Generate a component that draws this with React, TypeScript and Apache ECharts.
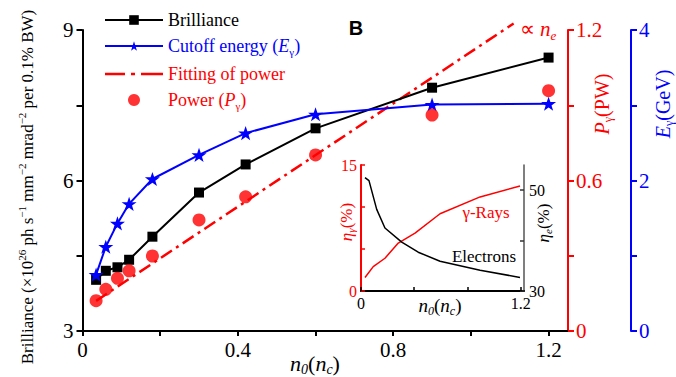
import React, { useEffect, useRef } from "react";
import * as echarts from "echarts";

// ---------- data ----------
const densities = [0.035, 0.06, 0.09, 0.12, 0.18, 0.3, 0.42, 0.6, 0.9, 1.2];
const brilliance = [4.02, 4.2, 4.27, 4.42, 4.88, 5.76, 6.32, 7.04, 7.85, 8.45];
const cutoffEnergy = [0.75, 1.12, 1.43, 1.69, 2.02, 2.34, 2.63, 2.88, 3.01, 3.02];
const power = [0.121, 0.166, 0.21, 0.24, 0.299, 0.443, 0.535, 0.702, 0.861, 0.958];
const fitDensity = [0.035, 1.11];
const fitPower = [0.12, 1.226];

const insetGammaX = [0.03, 0.092, 0.18, 0.28, 0.406, 0.594, 0.895, 1.195];
const insetGamma = [1.6, 2.9, 3.9, 5.7, 6.9, 9.2, 11.2, 12.5];
const insetElecX = [0.03, 0.06, 0.118, 0.18, 0.306, 0.43, 0.594, 0.895, 1.195];
const insetElec = [52.5, 51.9, 46.2, 42.5, 39.7, 37.7, 35.9, 34.1, 32.7];

const xTickLabels = [0, 0.4, 0.8, 1.2];
const leftTickLabels = [3, 6, 9];
const powerTickLabels = [0, 0.6, 1.2];
const energyTickLabels = [0, 2, 4];
const insetXLabels = [0, 1.2];
const insetLeftLabels = [0, 15];
const insetRightLabels = [30, 50];

const SERIF = '"Liberation Serif", "Times New Roman", serif';
const RED = "#ff0000";
const BLUE = "#0000ff";

const zip = (a: number[], b: number[]) => a.map((v, i) => [v, b[i]]);
const near = (list: number[], v: number) => list.some((a) => Math.abs(a - v) < 1e-6);
const only = (list: number[]) => (v: number) => (near(list, v) ? String(+v.toFixed(2)) : "");

const STAR =
  "path://M50,0 L61.8,35.1 L98.1,35.1 L68.8,56.7 L79.4,91 L50,70 L20.6,91 L31.2,56.7 L1.9,35.1 L38.2,35.1 Z";
const DASH_DOT_ICON =
  "path://M0,0 L20,0 L20,2.6 L0,2.6 Z M26,0 L30,0 L30,2.6 L26,2.6 Z M36,0 L58,0 L58,2.6 L36,2.6 Z";

const richBase = (size: number, lh?: number) => {
  const L = lh || size + 4;
  const small = Math.round(size * 0.62);
  return {
    i: { fontStyle: "italic", fontSize: size, fontFamily: SERIF, lineHeight: L },
    r: { fontSize: size, fontFamily: SERIF, lineHeight: L },
    s: { fontSize: small, fontFamily: SERIF, verticalAlign: "bottom", lineHeight: small },
    si: { fontSize: small, fontStyle: "italic", fontFamily: SERIF, verticalAlign: "bottom", lineHeight: small },
    sup: { fontSize: Math.round(size * 0.65), fontFamily: SERIF, verticalAlign: "top", lineHeight: Math.round(size * 0.65) },
  };
};

function txt(x: number, y: number, text: string, size: number, fill: string, extra: any = {}) {
  return {
    type: "text",
    x,
    y,
    rotation: extra.rotation || 0,
    z: 100,
    style: {
      text,
      fill,
      fontSize: size,
      fontFamily: extra.fontFamily || SERIF,
      fontWeight: extra.fontWeight || "normal",
      fontStyle: extra.fontStyle || "normal",
      align: "center",
      verticalAlign: "middle",
      textAlign: "center",
      textVerticalAlign: "middle",
      rich: richBase(size),
    },
  };
}

export default function App() {
  const ref = useRef<HTMLDivElement>(null);

  useEffect(() => {
    if (!ref.current) return;
    const chart = echarts.init(ref.current, undefined, { renderer: "svg" });

    const axisLine = (color: string) => ({ show: true, lineStyle: { color, width: 2 } });

    const option: any = {
      animation: false,
      backgroundColor: "#fff",
      grid: [
        { left: 82.5, top: 30, width: 485.5, height: 301, containLabel: false },
        { left: 361, top: 165, width: 163, height: 126, containLabel: false },
      ],
      legend: {
        orient: "vertical",
        left: 99,
        top: 6,
        itemWidth: 58,
        itemHeight: 12,
        itemGap: 8,
        data: [
          { name: "Brilliance", textStyle: { color: "#000" } },
          { name: "Cutoff", textStyle: { color: BLUE } },
          { name: "Fit", icon: DASH_DOT_ICON, textStyle: { color: RED } },
          { name: "Power", textStyle: { color: RED } },
        ],
        formatter: (name: string) => {
          if (name === "Cutoff") return "{r|Cutoff energy (}{i|E}{s|γ}{r|)}";
          if (name === "Fit") return "{r|Fitting of power}";
          if (name === "Power") return "{r|Power (}{i|P}{s|γ}{r|)}";
          return "{r|Brilliance}";
        },
        textStyle: { fontFamily: SERIF, fontSize: 18, rich: richBase(18, 22) },
      },
      xAxis: [
        {
          gridIndex: 0,
          type: "value",
          min: 0,
          max: 1.25,
          interval: 0.2,
          axisLine: axisLine("#000"),
          axisTick: { show: true, length: 5, lineStyle: { width: 2, color: "#000" }, customValues: [0, 0.2, 0.4, 0.6, 0.8, 1.0, 1.2] },
          axisLabel: {
            formatter: only(xTickLabels),
            customValues: xTickLabels,
            color: "#000",
            fontSize: 21,
            fontFamily: SERIF,
            margin: 8,
          },
          splitLine: { show: false },
        },
        {
          gridIndex: 1,
          type: "value",
          min: 0,
          max: 1.225,
          interval: 0.4,
          axisLine: axisLine("#000"),
          axisTick: { show: true, inside: true, length: 4, lineStyle: { width: 1.5, color: "#000" }, customValues: [0, 0.4, 0.8, 1.2] },
          axisLabel: {
            formatter: only(insetXLabels),
            customValues: insetXLabels,
            color: "#000",
            fontSize: 16,
            fontFamily: SERIF,
            margin: 4,
          },
          splitLine: { show: false },
        },
      ],
      yAxis: [
        {
          gridIndex: 0,
          type: "value",
          position: "left",
          min: 3,
          max: 9,
          interval: 1.5,
          axisLine: axisLine("#000"),
          axisTick: { show: true, length: 6, lineStyle: { width: 2, color: "#000" } },
          axisLabel: { formatter: only(leftTickLabels), color: "#000", fontSize: 21, fontFamily: SERIF, margin: 9 },
          splitLine: { show: false },
        },
        {
          gridIndex: 0,
          type: "value",
          position: "right",
          min: 0,
          max: 1.2,
          interval: 0.3,
          axisLine: axisLine(RED),
          axisTick: { show: true, length: 6, lineStyle: { width: 2, color: RED } },
          axisLabel: { formatter: only(powerTickLabels), color: RED, fontSize: 21, fontFamily: SERIF, margin: 8 },
          splitLine: { show: false },
        },
        {
          gridIndex: 0,
          type: "value",
          position: "right",
          offset: 63,
          min: 0,
          max: 4,
          interval: 1,
          axisLine: axisLine(BLUE),
          axisTick: { show: true, length: 6, lineStyle: { width: 2, color: BLUE } },
          axisLabel: { formatter: only(energyTickLabels), color: BLUE, fontSize: 21, fontFamily: SERIF, margin: 8 },
          splitLine: { show: false },
        },
        {
          gridIndex: 1,
          type: "value",
          position: "left",
          min: 0,
          max: 15,
          interval: 5,
          axisLine: axisLine(RED),
          axisTick: { show: true, inside: true, length: 4, lineStyle: { width: 1.5, color: RED } },
          axisLabel: { formatter: only(insetLeftLabels), color: RED, fontSize: 16, fontFamily: SERIF, margin: 4 },
          splitLine: { show: false },
        },
        {
          gridIndex: 1,
          type: "value",
          position: "right",
          min: 30,
          max: 55,
          interval: 10,
          axisLine: { show: true, lineStyle: { color: "#555", width: 1.5 } },
          axisTick: { show: true, inside: true, length: 4, lineStyle: { width: 1.5, color: "#333" }, customValues: [30, 40, 50] },
          axisLabel: { formatter: only(insetRightLabels), customValues: insetRightLabels, color: "#000", fontSize: 16, fontFamily: SERIF, margin: 5 },
          splitLine: { show: false },
        },
      ],
      series: [
        {
          name: "Fit",
          type: "line",
          xAxisIndex: 0,
          yAxisIndex: 1,
          data: zip(fitDensity, fitPower),
          showSymbol: false,
          symbol: "none",
          clip: false,
          lineStyle: { color: RED, width: 2.5, type: [13, 5, 3, 5] },
          itemStyle: { color: RED },
          z: 2,
        },
        {
          name: "Brilliance",
          type: "line",
          xAxisIndex: 0,
          yAxisIndex: 0,
          data: zip(densities, brilliance),
          symbol: "rect",
          symbolSize: 10,
          lineStyle: { color: "#000", width: 2 },
          itemStyle: { color: "#000" },
          z: 3,
        },
        {
          name: "Cutoff",
          type: "line",
          xAxisIndex: 0,
          yAxisIndex: 2,
          data: zip(densities, cutoffEnergy),
          symbol: STAR,
          symbolSize: 15,
          symbolKeepAspect: true,
          lineStyle: { color: BLUE, width: 2 },
          itemStyle: { color: BLUE },
          z: 4,
        },
        {
          name: "Power",
          type: "scatter",
          xAxisIndex: 0,
          yAxisIndex: 1,
          data: zip(densities, power),
          symbol: "circle",
          symbolSize: 13,
          itemStyle: { color: RED },
          z: 5,
        },
        {
          name: "gammaEff",
          type: "line",
          xAxisIndex: 1,
          yAxisIndex: 3,
          data: zip(insetGammaX, insetGamma),
          symbol: "none",
          lineStyle: { color: RED, width: 1.5 },
        },
        {
          name: "elecEff",
          type: "line",
          xAxisIndex: 1,
          yAxisIndex: 4,
          data: zip(insetElecX, insetElec),
          symbol: "none",
          lineStyle: { color: "#000", width: 1.5 },
        },
      ],
      graphic: [
        txt(27, 187, "{r|Brilliance (×10}{sup|26}{r| ph s}{sup|−1}{r| mm}{sup|−2}{r| mrad}{sup|−2}{r| per 0.1% BW)}", 17, "#000", { rotation: Math.PI / 2 }),
        txt(602, 104, "{i|P}{s|γ}{r|(PW)}", 20, RED, { rotation: Math.PI / 2 }),
        txt(663, 104, "{i|E}{s|γ}{r|(GeV)}", 20, BLUE, { rotation: Math.PI / 2 }),
        txt(315, 363, "{i|n}{si|0}{r|(}{i|n}{si|c}{r|)}", 22, "#000"),
        txt(356, 28, "B", 20, "#000", { fontFamily: '"Liberation Sans", Arial, sans-serif', fontWeight: "bold" }),
        txt(538, 29, "{r|∝ }{i|n}{si|e}", 21, RED),
        txt(486, 212, "{r|γ-Rays}", 17, RED),
        txt(484, 256, "{r|Electrons}", 17, "#000"),
        txt(440, 305, "{i|n}{si|0}{r|(}{i|n}{si|c}{r|)}", 19, "#000"),
        txt(346, 222, "{i|η}{si|γ}{r|(%)}", 17, RED, { rotation: Math.PI / 2 }),
        txt(543, 223, "{i|η}{si|e}{r|(%)}", 17, "#000", { rotation: Math.PI / 2 }),
      ],
    };

    chart.setOption(option);
    return () => chart.dispose();
  }, []);

  return (
    <div
      ref={ref}
      style={{ position: "fixed", left: 0, top: 0, width: 676, height: 377, background: "#fff" }}
    />
  );
}
